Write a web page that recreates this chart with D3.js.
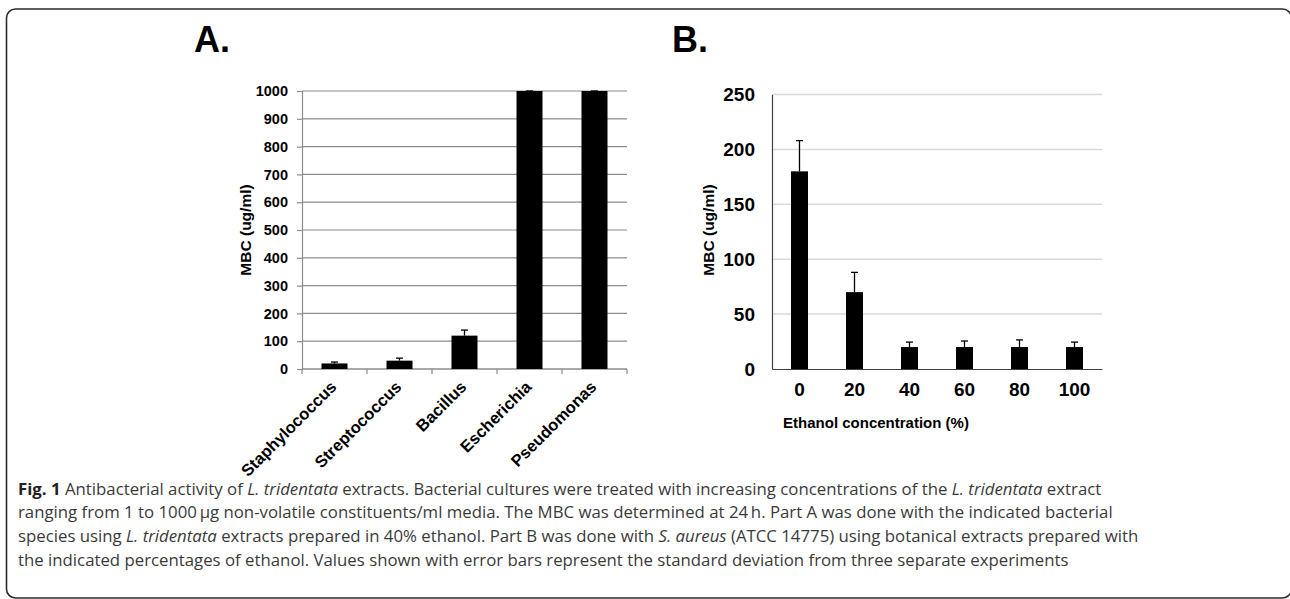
<!DOCTYPE html>
<html>
<head>
<meta charset="utf-8">
<script src="https://cdn.jsdelivr.net/npm/d3@7"></script>
<style>
  body { margin: 0; background: #fff; }
  svg { display: block; }
  .chart text { font-family: "Liberation Sans", Arial, sans-serif; font-weight: bold; fill: #000; }
  .caption { font-family: "Open Sans", "Noto Sans", sans-serif; fill: #3a3a3a; font-size: 16.8px; }
</style>
</head>
<body>
<svg id="fig" width="1290" height="599"></svg>
<script>
// Part A data
var speciesNames = ["Staphylococcus", "Streptococcus", "Bacillus", "Escherichia", "Pseudomonas"];
var speciesMBC = [20, 30, 120, 1000, 1000];
var speciesErr = [5, 9, 20, 0, 0];
var ticksA = [0, 100, 200, 300, 400, 500, 600, 700, 800, 900, 1000];

// Part B data
var ethanolPct = ["0", "20", "40", "60", "80", "100"];
var ethanolMBC = [180, 70, 20, 20, 20, 20];
var ethanolErr = [28, 18, 4.5, 5.5, 6.5, 4.5];
var ticksB = [0, 50, 100, 150, 200, 250];

var svg = d3.select('#fig');

// rounded frame (right side runs just past the page edge)
svg.append('rect')
    .attr('x', 6.5).attr('y', 9)
    .attr('width', 1285).attr('height', 589)
    .attr('rx', 9).attr('ry', 9)
    .attr('fill', 'none')
    .attr('stroke', '#2b2b2b')
    .attr('stroke-width', 1.6);

var chart = svg.append('g').attr('class', 'chart');

// ---------- Part A ----------
chart.append('text').attr('x', 194).attr('y', 52).style('font-size', '36px').text('A.');

var xA = d3.scaleBand().domain(speciesNames).range([302, 627]).paddingInner(0).paddingOuter(0);
var yA = d3.scaleLinear().domain([0, 1000]).range([369, 91]);
var gA = chart.append('g');

gA.selectAll('.gridA').data(ticksA).enter().append('line')
    .attr('x1', 302).attr('x2', 627)
    .attr('y1', function(d) { return yA(d); }).attr('y2', function(d) { return yA(d); })
    .attr('stroke', '#8c8c8c').attr('stroke-width', 1.2);

var axisLeftA = d3.axisLeft(yA).tickValues(ticksA).tickFormat(d3.format('d')).tickSize(5).tickPadding(9);
var gyA = gA.append('g').attr('transform', 'translate(302,0)').call(axisLeftA);
gyA.select('.domain').attr('stroke', '#8c8c8c').attr('stroke-width', 1.2);
gyA.selectAll('.tick line').attr('stroke', '#8c8c8c').attr('stroke-width', 1.2);
gyA.selectAll('.tick text').style('font-size', '14.5px').style('font-family', null).attr('fill', '#000');

// x axis with ticks at category boundaries
gA.append('line').attr('x1', 302).attr('x2', 627).attr('y1', 369).attr('y2', 369)
    .attr('stroke', '#8c8c8c').attr('stroke-width', 1.2);
var bounds = speciesNames.map(function(d) { return xA(d); }).concat([627]);
gA.selectAll('.tickA').data(bounds).enter().append('line')
    .attr('x1', function(d) { return d; }).attr('x2', function(d) { return d; })
    .attr('y1', 369).attr('y2', 374)
    .attr('stroke', '#8c8c8c').attr('stroke-width', 1.2);

var bwA = 26;
gA.selectAll('.barA').data(speciesNames).enter().append('rect')
    .attr('x', function(d) { return xA(d) + xA.bandwidth() / 2 - bwA / 2; })
    .attr('y', function(d, i) { return yA(speciesMBC[i]); })
    .attr('width', bwA)
    .attr('height', function(d, i) { return yA(0) - yA(speciesMBC[i]); })
    .attr('fill', '#000');

drawErr(gA, speciesNames, speciesMBC, speciesErr, xA, yA);

gA.selectAll('.labA').data(speciesNames).enter().append('text')
    .attr('transform', function(d) {
        return 'translate(' + (xA(d) + xA.bandwidth() / 2 + 3) + ',388) rotate(-45)';
    })
    .attr('text-anchor', 'end')
    .style('font-size', '16.5px')
    .text(function(d) { return d; });

chart.append('text')
    .attr('transform', 'translate(251,230) rotate(-90)')
    .attr('text-anchor', 'middle')
    .style('font-size', '15.5px')
    .text('MBC (ug/ml)');

// ---------- Part B ----------
chart.append('text').attr('x', 672).attr('y', 52).style('font-size', '36px').text('B.');

var xB = d3.scaleBand().domain(ethanolPct).range([772, 1102]);
var yB = d3.scaleLinear().domain([0, 250]).range([369, 94.5]);
var gB = chart.append('g');

gB.selectAll('.gridB').data(ticksB.slice(1)).enter().append('line')
    .attr('x1', 772).attr('x2', 1102)
    .attr('y1', function(d) { return yB(d); }).attr('y2', function(d) { return yB(d); })
    .attr('stroke', '#d9d9d9').attr('stroke-width', 1.5);

var axisLeftB = d3.axisLeft(yB).tickValues(ticksB).tickSize(0).tickPadding(17);
var gyB = gB.append('g').attr('transform', 'translate(772,0)').call(axisLeftB);
gyB.select('.domain').attr('stroke', '#404040').attr('stroke-width', 1.2);
gyB.selectAll('.tick text').style('font-size', '19px').style('font-family', null).attr('fill', '#000');

var axisBottomB = d3.axisBottom(xB).tickSize(0).tickPadding(14);
var gxB = gB.append('g').attr('transform', 'translate(0,369)').call(axisBottomB);
gxB.select('.domain').attr('stroke', '#404040').attr('stroke-width', 1.2);
gxB.selectAll('.tick text').style('font-size', '19px').style('font-family', null).attr('fill', '#000');

var bwB = 17;
gB.selectAll('.barB').data(ethanolPct).enter().append('rect')
    .attr('x', function(d) { return xB(d) + xB.bandwidth() / 2 - bwB / 2; })
    .attr('y', function(d, i) { return yB(ethanolMBC[i]); })
    .attr('width', bwB)
    .attr('height', function(d, i) { return yB(0) - yB(ethanolMBC[i]); })
    .attr('fill', '#000');

drawErr(gB, ethanolPct, ethanolMBC, ethanolErr, xB, yB);

chart.append('text')
    .attr('transform', 'translate(714,230) rotate(-90)')
    .attr('text-anchor', 'middle')
    .style('font-size', '15.5px')
    .text('MBC (ug/ml)');

chart.append('text')
    .attr('x', 876).attr('y', 428)
    .attr('text-anchor', 'middle')
    .style('font-size', '15px')
    .text('Ethanol concentration (%)');

function drawErr(g, cats, vals, errs, x, y) {
    cats.forEach(function(c, i) {
        var cx = x(c) + x.bandwidth() / 2;
        var top = y(vals[i] + errs[i]);
        g.append('line').attr('x1', cx).attr('x2', cx)
            .attr('y1', y(vals[i])).attr('y2', top)
            .attr('stroke', '#000').attr('stroke-width', 1.3);
        g.append('line').attr('x1', cx - 3.5).attr('x2', cx + 3.5)
            .attr('y1', top).attr('y2', top)
            .attr('stroke', '#000').attr('stroke-width', 1.3);
    });
}

// ---------- caption ----------
var captionLines = [
    [["Fig. 1", "b"], [" Antibacterial activity of ", ""], ["L. tridentata", "i"], [" extracts. Bacterial cultures were treated with increasing concentrations of the ", ""], ["L. tridentata", "i"], [" extract", ""]],
    [["ranging from 1 to 1000\u2009\u03bcg non-volatile constituents/ml media. The MBC was determined at 24\u2009h. Part A was done with the indicated bacterial", ""]],
    [["species using ", ""], ["L. tridentata", "i"], [" extracts prepared in 40% ethanol. Part B was done with ", ""], ["S. aureus", "i"], [" (ATCC 14775) using botanical extracts prepared with", ""]],
    [["the indicated percentages of ethanol. Values shown with error bars represent the standard deviation from three separate experiments", ""]]
];
var captionY = [494.5, 518, 542, 565.5];

captionLines.forEach(function(parts, li) {
    var t = svg.append('text').attr('class', 'caption').attr('x', 18).attr('y', captionY[li]);
    parts.forEach(function(p) {
        var s = t.append('tspan').text(p[0]);
        if (p[1] == 'b') s.style('font-weight', 'bold').attr('fill', '#222');
        if (p[1] == 'i') s.style('font-style', 'italic');
    });
});
</script>
</body>
</html>
